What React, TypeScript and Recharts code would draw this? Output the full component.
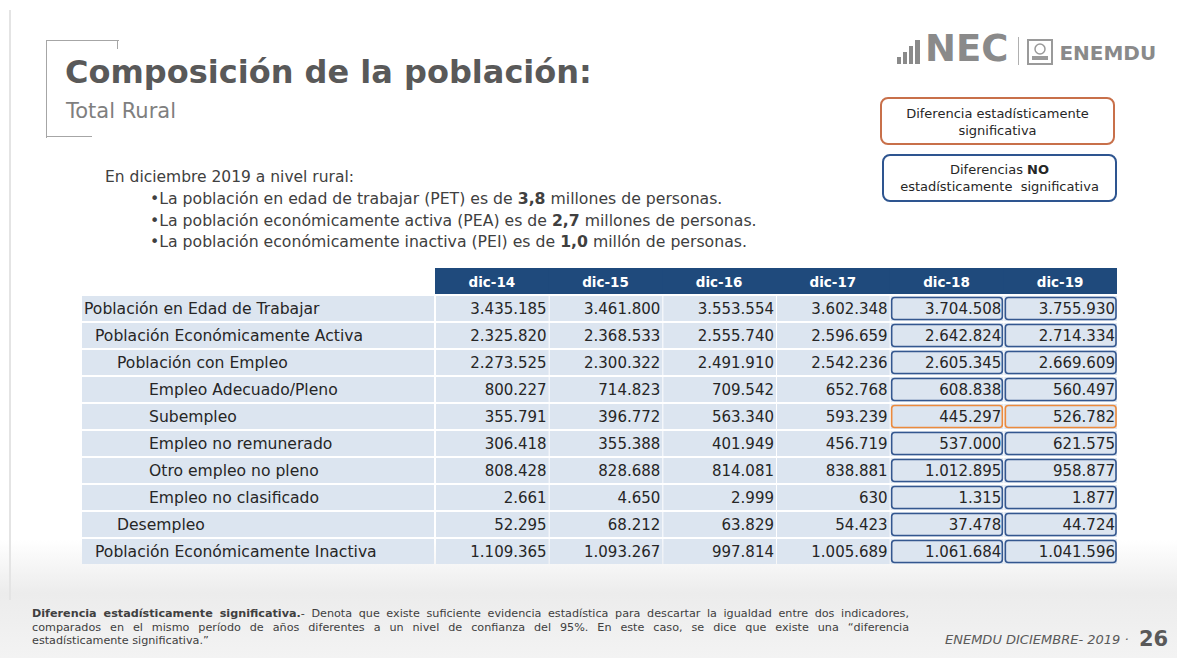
import { Scatter, ScatterChart, XAxis, YAxis } from "recharts";

const columns = ["dic-14", "dic-15", "dic-16", "dic-17", "dic-18", "dic-19"];

const rowLabels = [
  "Población en Edad de Trabajar",
  "Población Económicamente Activa",
  "Población con Empleo",
  "Empleo Adecuado/Pleno",
  "Subempleo",
  "Empleo no remunerado",
  "Otro empleo no pleno",
  "Empleo no clasificado",
  "Desempleo",
  "Población Económicamente Inactiva",
];

// indentation level of each row label
const rowLevels = [0, 1, 2, 3, 3, 3, 3, 3, 2, 1];

const dic14 = [3435185, 2325820, 2273525, 800227, 355791, 306418, 808428, 2661, 52295, 1109365];
const dic15 = [3461800, 2368533, 2300322, 714823, 396772, 355388, 828688, 4650, 68212, 1093267];
const dic16 = [3553554, 2555740, 2491910, 709542, 563340, 401949, 814081, 2999, 63829, 997814];
const dic17 = [3602348, 2596659, 2542236, 652768, 593239, 456719, 838881, 630, 54423, 1005689];
const dic18 = [3704508, 2642824, 2605345, 608838, 445297, 537000, 1012895, 1315, 37478, 1061684];
const dic19 = [3755930, 2714334, 2669609, 560497, 526782, 621575, 958877, 1877, 44724, 1041596];

// columns compared against the previous year, and rows where the difference is significant
const comparedColumns = ["dic-18", "dic-19"];
const significantRows = ["Subempleo"];

const seriesByColumn = [dic14, dic15, dic16, dic17, dic18, dic19];

const cells = rowLabels.flatMap((row, r) =>
  columns.map((col, c) => ({ row, col, value: seriesByColumn[c][r] }))
);

const FONT = "'DejaVu Sans', sans-serif";
const CHART_W = 1035;
const CHART_H = 297;
const LABEL_W = 353;
const HEADER_H = 27;
const COL_W = (CHART_W - LABEL_W) / columns.length;
const ROW_H = (CHART_H - HEADER_H) / rowLabels.length;
const CELL_FILL = "#dce5f0";
const INDENTS = [2, 13, 35, 67];

function formatNumber(value: number): string {
  return String(value).replace(/\B(?=(\d{3})+(?!\d))/g, ".");
}

function HeaderTick(props: any) {
  const { x, payload } = props;
  return (
    <g>
      <rect x={x - COL_W / 2} y={0} width={COL_W + 1} height={HEADER_H - 1} fill="#1f4a7c" />
      <text
        x={x}
        y={HEADER_H / 2 + 5}
        textAnchor="middle"
        fill="#ffffff"
        fontSize={13.5}
        fontWeight="bold"
        fontFamily={FONT}
      >
        {payload.value}
      </text>
    </g>
  );
}

function RowTick(props: any) {
  const { y, payload } = props;
  const level = rowLevels[rowLabels.indexOf(payload.value)] ?? 0;
  return (
    <g>
      <rect x={0} y={y - ROW_H / 2 + 1} width={LABEL_W - 1} height={ROW_H - 2} fill={CELL_FILL} />
      <text x={INDENTS[level]} y={y + 5.5} fill="#262626" fontSize={15.6} fontFamily={FONT}>
        {payload.value}
      </text>
    </g>
  );
}

function CellShape(props: any) {
  const { cx, cy, payload } = props;
  const left = cx - COL_W / 2;
  const top = cy - ROW_H / 2;
  const compared = comparedColumns.includes(payload.col);
  const significant = significantRows.includes(payload.row);
  return (
    <g>
      <rect x={left + 1} y={top + 1} width={COL_W - 1} height={ROW_H - 2} fill={CELL_FILL} />
      {compared && (
        <rect
          x={left + 2}
          y={top + 2.5}
          width={COL_W - 3}
          height={ROW_H - 5}
          rx={3}
          fill="none"
          stroke={significant ? "#ec8a3c" : "#34578f"}
          strokeWidth={1.6}
        />
      )}
      <text
        x={left + COL_W - 2}
        y={cy + 5.5}
        textAnchor="end"
        fill="#262626"
        fontSize={15}
        fontFamily={FONT}
      >
        {formatNumber(payload.value)}
      </text>
    </g>
  );
}

function Logo() {
  return (
    <div style={{ position: "absolute", left: 897, top: 33, display: "flex", alignItems: "flex-end", color: "#8a8a8a" }}>
      <svg width={28} height={28}>
        <rect x={0} y={20} width={4} height={7} fill="#8a8a8a" />
        <rect x={6} y={15} width={4} height={12} fill="#8a8a8a" />
        <rect x={12} y={9} width={4} height={18} fill="#8a8a8a" />
        <rect x={18} y={3} width={5} height={24} fill="#8a8a8a" />
      </svg>
      <span style={{ fontFamily: FONT, fontWeight: "bold", fontSize: 37, lineHeight: "32px", letterSpacing: 0 }}>NEC</span>
      <div style={{ width: 1, height: 28, background: "#b0b0b0", margin: "0 8px 0 10px" }} />
      <svg width={26} height={26}>
        <rect x={1} y={1} width={24} height={24} fill="none" stroke="#9a9a9a" strokeWidth={2} />
        <circle cx={13} cy={10} r={5} fill="none" stroke="#9a9a9a" strokeWidth={1.5} />
        <rect x={5} y={17} width={16} height={4} fill="#9a9a9a" />
      </svg>
      <span style={{ fontFamily: FONT, fontWeight: "bold", fontSize: 20, marginLeft: 6, lineHeight: "24px" }}>ENEMDU</span>
    </div>
  );
}

export default function App() {
  const textColor = "#404040";
  return (
    <div
      style={{
        position: "absolute",
        left: 0,
        top: 0,
        width: 1177,
        height: 658,
        overflow: "hidden",
        background: "#ffffff",
        fontFamily: FONT,
      }}
    >
      <div
        style={{
          position: "absolute",
          left: 0,
          top: 540,
          width: 1177,
          height: 118,
          background: "linear-gradient(to bottom, rgba(255,255,255,0), #ececec 45%, #f3f3f3)",
        }}
      />
      <div style={{ position: "absolute", left: 9, top: 10, width: 2, height: 590, background: "#e4e4e4" }} />

      {/* title bracket */}
      <div style={{ position: "absolute", left: 46, top: 40, width: 72, height: 97, borderLeft: "1.5px solid #a6a6a6", borderTop: "1.5px solid #a6a6a6" }} />
      <div style={{ position: "absolute", left: 46, top: 136, width: 46, borderTop: "1.5px solid #a6a6a6" }} />
      <div style={{ position: "absolute", left: 117, top: 40, height: 9, borderLeft: "1.5px solid #a6a6a6" }} />
      <div style={{ position: "absolute", left: 65, top: 53, fontSize: 32, fontWeight: "bold", color: "#595959", whiteSpace: "nowrap" }}>
        Composición de la población:
      </div>
      <div style={{ position: "absolute", left: 66, top: 99, fontSize: 21, color: "#7f7f7f", whiteSpace: "nowrap" }}>
        Total Rural
      </div>

      <Logo />

      <div
        style={{
          position: "absolute",
          left: 880,
          top: 97,
          width: 235,
          height: 48,
          border: "2px solid #c8704a",
          borderRadius: 8,
          fontSize: 13,
          color: "#262626",
          textAlign: "center",
          lineHeight: "17px",
          paddingTop: 6,
          boxSizing: "border-box",
        }}
      >
        Diferencia estadísticamente
        <br />
        significativa
      </div>
      <div
        style={{
          position: "absolute",
          left: 882,
          top: 154,
          width: 235,
          height: 48,
          border: "2.5px solid #2e5590",
          borderRadius: 8,
          fontSize: 13,
          color: "#262626",
          textAlign: "center",
          lineHeight: "17px",
          paddingTop: 5,
          boxSizing: "border-box",
        }}
      >
        Diferencias <b>NO</b>
        <br />
        estadísticamente&nbsp; significativa
      </div>

      <div style={{ position: "absolute", left: 105, top: 168, fontSize: 15.5, color: textColor, whiteSpace: "nowrap" }}>
        En diciembre 2019 a nivel rural:
      </div>
      <div style={{ position: "absolute", left: 150, top: 188, fontSize: 15.7, color: textColor, lineHeight: "21.5px", whiteSpace: "nowrap" }}>
        <div>
          •La población en edad de trabajar (PET) es de <b>3,8</b> millones de personas.
        </div>
        <div>
          •La población económicamente activa (PEA) es de <b>2,7</b> millones de personas.
        </div>
        <div>
          •La población económicamente inactiva (PEI) es de <b>1,0</b> millón de personas.
        </div>
      </div>

      <div style={{ position: "absolute", left: 82, top: 268 }}>
        <ScatterChart width={CHART_W} height={CHART_H} data={cells} margin={{ top: 0, right: 0, bottom: 0, left: 0 }}>
          <XAxis
            xAxisId={0}
            dataKey="col"
            type="category"
            scale="band"
            orientation="top"
            height={HEADER_H}
            allowDuplicatedCategory={false}
            axisLine={false}
            tickLine={false}
            tickSize={0}
            interval={0}
            tick={(p: any) => <HeaderTick {...p} />}
          />
          <YAxis
            yAxisId={0}
            dataKey="row"
            type="category"
            scale="band"
            width={LABEL_W}
            reversed
            allowDuplicatedCategory={false}
            axisLine={false}
            tickLine={false}
            tickSize={0}
            interval={0}
            tick={(p: any) => <RowTick {...p} />}
          />
          <Scatter data={cells} shape={(p: any) => <CellShape {...p} />} isAnimationActive={false} />
        </ScatterChart>
      </div>

      <div style={{ position: "absolute", left: 32, top: 607, width: 877, fontSize: 11.2, color: textColor, lineHeight: "13.5px" }}>
        <div style={{ textAlign: "justify", textAlignLast: "justify", whiteSpace: "nowrap" }}>
          <b>Diferencia estadísticamente significativa.</b>- Denota que existe suficiente evidencia estadística para descartar la igualdad entre dos indicadores,
        </div>
        <div style={{ textAlign: "justify", textAlignLast: "justify", whiteSpace: "nowrap" }}>
          comparados en el mismo período de años diferentes a un nivel de confianza del 95%. En este caso, se dice que existe una “diferencia
        </div>
        <div>estadísticamente significativa.”</div>
      </div>

      <div style={{ position: "absolute", left: 945, top: 632, fontSize: 13, fontStyle: "italic", color: "#595959", whiteSpace: "nowrap" }}>
        ENEMDU DICIEMBRE- 2019 ·
      </div>
      <div style={{ position: "absolute", left: 1139, top: 627, fontSize: 21, fontWeight: "bold", color: "#595959" }}>26</div>
    </div>
  );
}
